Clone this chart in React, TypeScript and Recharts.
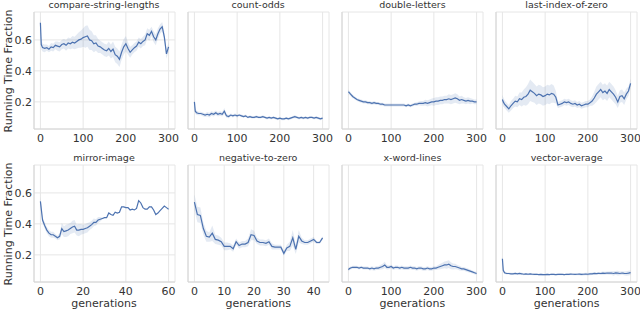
import React from 'react'
import { Area, CartesianGrid, ComposedChart, Line, XAxis, YAxis } from 'recharts'

// generation index for the 300-generation runs
const GENS_300 = [
  0, 2, 5, 10, 15, 20, 25, 30, 35, 40, 45, 50,
  55, 60, 65, 70, 75, 80, 85, 90, 95, 100,
  105, 110, 115, 120, 125, 130, 135, 140, 145, 150,
  155, 160, 165, 170, 175, 180, 185, 190, 195, 200,
  205, 210, 215, 220, 225, 230, 235, 240, 245, 250,
  255, 260, 265, 270, 275, 280, 285, 290, 295, 300,
]
const GENS_60 = [
  0, 1, 2, 3, 4, 5, 6, 7, 8, 9, 10, 11, 12, 13, 14, 15, 16, 17, 18, 19, 20,
  21, 22, 23, 24, 25, 26, 27, 28, 29, 30, 31, 32, 33, 34, 35, 36, 37, 38, 39, 40,
  41, 42, 43, 44, 45, 46, 47, 48, 49, 50, 51, 52, 53, 54, 55, 56, 57, 58, 59, 60,
]
const GENS_43 = [
  0, 1, 2, 3, 4, 5, 6, 7, 8, 9, 10, 11, 12, 13, 14, 15, 16, 17, 18, 19, 20, 21,
  22, 23, 24, 25, 26, 27, 28, 29, 30, 31, 32, 33, 34, 35, 36, 37, 38, 39, 40, 41, 42, 43,
]

const TICKS_300 = [0, 100, 200, 300]
const TICKS_60 = [0, 20, 40, 60]
const TICKS_43 = [0, 10, 20, 30, 40]
const Y_TICKS = [0.2, 0.4, 0.6]

const compareMean = [
  0.71, 0.57, 0.55, 0.545, 0.55, 0.54, 0.555, 0.55, 0.565, 0.56, 0.555, 0.57,
  0.575, 0.565, 0.58, 0.575, 0.585, 0.58, 0.59, 0.6, 0.605, 0.615,
  0.62, 0.625, 0.6, 0.595, 0.575, 0.58, 0.56, 0.555, 0.545, 0.535,
  0.53, 0.545, 0.525, 0.54, 0.505, 0.495, 0.475, 0.52, 0.555, 0.575,
  0.545, 0.52, 0.535, 0.55, 0.56, 0.585, 0.575, 0.59, 0.6, 0.64,
  0.63, 0.655, 0.62, 0.6, 0.64, 0.67, 0.685, 0.62, 0.51, 0.555,
]
const compareBand = [
  0.05, 0.03, 0.025, 0.025, 0.02, 0.02, 0.025, 0.025, 0.025, 0.03, 0.03, 0.03,
  0.03, 0.035, 0.035, 0.035, 0.04, 0.04, 0.045, 0.05, 0.055, 0.06,
  0.07, 0.07, 0.065, 0.06, 0.055, 0.05, 0.045, 0.04, 0.04, 0.04,
  0.04, 0.045, 0.045, 0.05, 0.05, 0.05, 0.05, 0.05, 0.05, 0.05,
  0.04, 0.035, 0.03, 0.03, 0.03, 0.03, 0.03, 0.03, 0.035, 0.035,
  0.035, 0.03, 0.035, 0.035, 0.035, 0.03, 0.03, 0.035, 0.03, 0.03,
]

const countOddsMean = [
  0.2, 0.14, 0.13, 0.125, 0.125, 0.12, 0.115, 0.12, 0.115, 0.125, 0.12, 0.13,
  0.12, 0.125, 0.12, 0.14, 0.11, 0.105, 0.115, 0.11, 0.115, 0.11,
  0.115, 0.11, 0.105, 0.11, 0.1, 0.105, 0.1, 0.1, 0.105, 0.1,
  0.1, 0.105, 0.1, 0.095, 0.1, 0.095, 0.1, 0.095, 0.09, 0.095,
  0.09, 0.09, 0.095, 0.09, 0.095, 0.1, 0.105, 0.1, 0.095, 0.1,
  0.095, 0.1, 0.095, 0.1, 0.1, 0.095, 0.1, 0.095, 0.09, 0.095,
]
const countOddsBand = [
  0.02, 0.015, 0.015, 0.012, 0.012, 0.012, 0.012, 0.015, 0.015, 0.015, 0.015, 0.015,
  0.015, 0.015, 0.015, 0.02, 0.012, 0.01, 0.01, 0.01, 0.01, 0.01,
  0.008, 0.008, 0.008, 0.008, 0.008, 0.008, 0.008, 0.008, 0.008, 0.008,
  0.008, 0.008, 0.008, 0.008, 0.008, 0.008, 0.008, 0.008, 0.008, 0.008,
  0.008, 0.008, 0.008, 0.008, 0.008, 0.008, 0.01, 0.008, 0.008, 0.008,
  0.008, 0.008, 0.008, 0.008, 0.008, 0.008, 0.008, 0.008, 0.008, 0.008,
]

const doubleMean = [
  0.265, 0.26, 0.25, 0.235, 0.225, 0.215, 0.21, 0.205, 0.2, 0.2, 0.195, 0.195,
  0.19, 0.195, 0.19, 0.19, 0.185, 0.185, 0.18, 0.18, 0.18, 0.18,
  0.18, 0.18, 0.18, 0.18, 0.18, 0.18, 0.175, 0.18, 0.175, 0.18,
  0.185, 0.185, 0.19, 0.19, 0.19, 0.195, 0.19, 0.195, 0.2, 0.2,
  0.205, 0.205, 0.21, 0.21, 0.215, 0.215, 0.22, 0.215, 0.22, 0.225,
  0.22, 0.21, 0.215, 0.21, 0.205, 0.21, 0.205, 0.205, 0.2, 0.2,
]
const doubleBand = [
  0.015, 0.012, 0.012, 0.012, 0.01, 0.01, 0.01, 0.01, 0.01, 0.01, 0.01, 0.01,
  0.01, 0.01, 0.01, 0.01, 0.01, 0.01, 0.01, 0.01, 0.01, 0.01,
  0.01, 0.01, 0.01, 0.01, 0.01, 0.01, 0.01, 0.01, 0.01, 0.01,
  0.01, 0.012, 0.012, 0.015, 0.015, 0.018, 0.02, 0.02, 0.022, 0.025,
  0.025, 0.025, 0.025, 0.025, 0.025, 0.025, 0.03, 0.03, 0.03, 0.03,
  0.03, 0.025, 0.025, 0.02, 0.02, 0.02, 0.02, 0.015, 0.015, 0.015,
]

const lastIndexMean = [
  0.215, 0.2, 0.185, 0.17, 0.155, 0.175, 0.19, 0.205, 0.2, 0.22, 0.215, 0.23,
  0.235, 0.25, 0.275, 0.265, 0.255, 0.24, 0.25, 0.245, 0.235, 0.24,
  0.25, 0.245, 0.255, 0.25, 0.23, 0.18, 0.185, 0.19, 0.2, 0.195,
  0.2, 0.19, 0.185, 0.19, 0.18, 0.185, 0.175, 0.18, 0.185, 0.185,
  0.195, 0.205, 0.225, 0.25, 0.265, 0.28, 0.26, 0.27, 0.255, 0.28,
  0.265, 0.25, 0.23, 0.2, 0.235, 0.24, 0.22, 0.25, 0.27, 0.32,
]
const lastIndexBand = [
  0.03, 0.03, 0.025, 0.025, 0.025, 0.03, 0.03, 0.035, 0.035, 0.04, 0.045, 0.05,
  0.06, 0.065, 0.07, 0.065, 0.06, 0.06, 0.06, 0.06, 0.06, 0.06,
  0.06, 0.06, 0.06, 0.055, 0.04, 0.02, 0.02, 0.02, 0.02, 0.02,
  0.02, 0.02, 0.02, 0.02, 0.02, 0.02, 0.02, 0.02, 0.02, 0.02,
  0.02, 0.03, 0.04, 0.05, 0.05, 0.05, 0.05, 0.05, 0.05, 0.05,
  0.05, 0.05, 0.045, 0.04, 0.04, 0.04, 0.04, 0.035, 0.03, 0.03,
]

const mirrorMean = [
  0.545, 0.425, 0.39, 0.36, 0.34, 0.33, 0.33, 0.32, 0.31, 0.32,
  0.37, 0.35, 0.355, 0.36, 0.37, 0.38, 0.385, 0.36, 0.36, 0.365,
  0.365, 0.37, 0.375, 0.385, 0.395, 0.41, 0.41, 0.425, 0.43, 0.435,
  0.44, 0.44, 0.47, 0.46, 0.455, 0.475, 0.47, 0.475, 0.51, 0.51,
  0.505, 0.505, 0.49, 0.495, 0.49, 0.5, 0.55, 0.535, 0.505, 0.495,
  0.495, 0.51, 0.51, 0.49, 0.46, 0.47, 0.485, 0.5, 0.515, 0.505,
  0.495,
]
const mirrorBand = [
  0.03, 0.02, 0.02, 0.02, 0.02, 0.02, 0.02, 0.015, 0.015, 0.02,
  0.035, 0.035, 0.04, 0.04, 0.035, 0.04, 0.04, 0.035, 0.04, 0.035,
  0.03, 0.03, 0.03, 0.025, 0.025, 0.025, 0.02, 0.02, 0.015, 0.005,
  0, 0, 0, 0, 0, 0, 0, 0, 0, 0,
  0, 0, 0, 0, 0, 0, 0, 0, 0, 0,
  0, 0, 0, 0, 0, 0, 0, 0, 0, 0,
  0,
]

const negativeMean = [
  0.54, 0.46, 0.455, 0.37, 0.32, 0.315, 0.34, 0.3, 0.295, 0.285,
  0.255, 0.255, 0.255, 0.24, 0.285, 0.26, 0.27, 0.27, 0.28, 0.33,
  0.325, 0.29, 0.28, 0.28, 0.275, 0.285, 0.255, 0.25, 0.25, 0.25,
  0.21, 0.245, 0.255, 0.31, 0.235, 0.32, 0.29, 0.28, 0.28, 0.29,
  0.3, 0.28, 0.28, 0.31,
]
const negativeBand = [
  0.05, 0.05, 0.05, 0.04, 0.035, 0.03, 0.05, 0.03, 0.03, 0.025,
  0.025, 0.025, 0.02, 0.02, 0.02, 0.02, 0.02, 0.02, 0.025, 0.035,
  0.03, 0.02, 0.02, 0.02, 0.02, 0.02, 0.02, 0.015, 0.015, 0.015,
  0.015, 0.02, 0.03, 0.05, 0.03, 0.04, 0.02, 0.015, 0.015, 0.015,
  0.015, 0.01, 0.01, 0.01,
]

const xWordMean = [
  0.105, 0.11, 0.115, 0.12, 0.12, 0.12, 0.115, 0.12, 0.115, 0.115, 0.115, 0.11,
  0.115, 0.11, 0.115, 0.115, 0.12, 0.125, 0.135, 0.12, 0.12, 0.125,
  0.115, 0.12, 0.12, 0.115, 0.12, 0.115, 0.115, 0.115, 0.12, 0.115,
  0.115, 0.11, 0.115, 0.115, 0.11, 0.11, 0.115, 0.11, 0.11, 0.115,
  0.115, 0.12, 0.125, 0.13, 0.135, 0.135, 0.14, 0.13, 0.125, 0.125,
  0.12, 0.115, 0.11, 0.11, 0.105, 0.1, 0.095, 0.09, 0.085, 0.08,
]
const xWordBand = [
  0.01, 0.01, 0.01, 0.01, 0.01, 0.01, 0.01, 0.01, 0.01, 0.01, 0.01, 0.01,
  0.012, 0.012, 0.012, 0.012, 0.015, 0.018, 0.02, 0.015, 0.012, 0.012,
  0.012, 0.012, 0.012, 0.012, 0.012, 0.012, 0.012, 0.012, 0.012, 0.012,
  0.012, 0.012, 0.012, 0.012, 0.012, 0.012, 0.012, 0.012, 0.012, 0.012,
  0.012, 0.015, 0.018, 0.02, 0.022, 0.025, 0.025, 0.022, 0.02, 0.018,
  0.015, 0.015, 0.012, 0.012, 0.012, 0.012, 0.01, 0.01, 0.01, 0.01,
]

const vectorMean = [
  0.175, 0.1, 0.085, 0.08, 0.08, 0.078, 0.078, 0.08, 0.078, 0.08, 0.078, 0.075,
  0.077, 0.075, 0.077, 0.075, 0.074, 0.075, 0.073, 0.074, 0.072, 0.073,
  0.074, 0.073, 0.075, 0.074, 0.073, 0.074, 0.075, 0.074, 0.073, 0.075,
  0.074, 0.076, 0.075, 0.074, 0.075, 0.076, 0.074, 0.075, 0.076, 0.075,
  0.077, 0.078, 0.08, 0.079, 0.081, 0.08, 0.082, 0.081, 0.083, 0.082,
  0.083, 0.08, 0.084, 0.082, 0.08, 0.083, 0.081, 0.08, 0.082, 0.085,
]
const vectorBand = [
  0.02, 0.01, 0.008, 0.006, 0.006, 0.006, 0.006, 0.006, 0.006, 0.006, 0.006, 0.006,
  0.006, 0.006, 0.006, 0.006, 0.006, 0.006, 0.006, 0.006, 0.006, 0.006,
  0.006, 0.006, 0.006, 0.006, 0.006, 0.006, 0.006, 0.006, 0.006, 0.006,
  0.006, 0.006, 0.006, 0.006, 0.006, 0.007, 0.008, 0.008, 0.008, 0.008,
  0.008, 0.008, 0.008, 0.008, 0.008, 0.01, 0.01, 0.01, 0.01, 0.01,
  0.012, 0.015, 0.012, 0.015, 0.012, 0.012, 0.012, 0.014, 0.015, 0.015,
]

const BLUE = '#4c72b0'
const FONT = '"DejaVu Sans", sans-serif'
const TEXT = '#333333'

const PLOT_W = 141
const PLOT_H = 117
const COL_LEFT = [33.5, 187.7, 341.9, 496.1]
const ROW_TOP = [12, 165]
const Y_DOMAIN = [0.025, 0.78]

type Panel = {
  title: string
  gens: number[]
  mean: number[]
  band: number[]
  ticks: number[]
  row: number
  col: number
}

const panels: Panel[] = [
  { title: 'compare-string-lengths', gens: GENS_300, mean: compareMean, band: compareBand, ticks: TICKS_300, row: 0, col: 0 },
  { title: 'count-odds', gens: GENS_300, mean: countOddsMean, band: countOddsBand, ticks: TICKS_300, row: 0, col: 1 },
  { title: 'double-letters', gens: GENS_300, mean: doubleMean, band: doubleBand, ticks: TICKS_300, row: 0, col: 2 },
  { title: 'last-index-of-zero', gens: GENS_300, mean: lastIndexMean, band: lastIndexBand, ticks: TICKS_300, row: 0, col: 3 },
  { title: 'mirror-image', gens: GENS_60, mean: mirrorMean, band: mirrorBand, ticks: TICKS_60, row: 1, col: 0 },
  { title: 'negative-to-zero', gens: GENS_43, mean: negativeMean, band: negativeBand, ticks: TICKS_43, row: 1, col: 1 },
  { title: 'x-word-lines', gens: GENS_300, mean: xWordMean, band: xWordBand, ticks: TICKS_300, row: 1, col: 2 },
  { title: 'vector-average', gens: GENS_300, mean: vectorMean, band: vectorBand, ticks: TICKS_300, row: 1, col: 3 },
]

function FacetChart({ p }: { p: Panel }) {
  const data = p.gens.map((g, i) => ({
    gen: g,
    mean: p.mean[i],
    range: [p.mean[i] - p.band[i], p.mean[i] + p.band[i]],
  }))
  const maxGen = p.gens[p.gens.length - 1]
  const pad = maxGen * 0.05
  const left = COL_LEFT[p.col]
  const top = ROW_TOP[p.row]
  const tick = { fontSize: 11, fill: TEXT, fontFamily: FONT }

  return (
    <>
      <div
        style={{
          position: 'absolute', left, top: top - 12, width: PLOT_W, lineHeight: '10px',
          textAlign: 'center', fontSize: 9.5, color: TEXT, fontFamily: FONT,
        }}
      >
        {p.title}
      </div>
      <div style={{ position: 'absolute', left: left - 34, top: top - 2 }}>
        <ComposedChart width={34 + PLOT_W + 4} height={2 + PLOT_H + 20} data={data}
          margin={{ top: 2, right: 4, left: 0, bottom: 0 }}>
          <CartesianGrid stroke="#e6e6e6" />
          <XAxis type="number" dataKey="gen" domain={[-pad, maxGen + pad]} ticks={p.ticks}
            interval={0} tickLine={false} tickSize={4} tickMargin={1} height={20}
            axisLine={{ stroke: '#d4d4d4' }} tick={tick} />
          <YAxis type="number" domain={Y_DOMAIN} ticks={Y_TICKS} interval={0} width={34}
            tickLine={false} tickSize={2} tickMargin={0}
            axisLine={{ stroke: '#d4d4d4' }}
            tick={p.col === 0 ? tick : false}
            tickFormatter={(v: number) => v.toFixed(1)} />
          <Area type="linear" dataKey="range" stroke="none" fill={BLUE} fillOpacity={0.15}
            isAnimationActive={false} />
          <Line type="linear" dataKey="mean" stroke={BLUE} strokeWidth={1.2} dot={false}
            isAnimationActive={false} />
        </ComposedChart>
      </div>
      {p.row === 1 && (
        <div
          style={{
            position: 'absolute', left, top: 298, width: PLOT_W, lineHeight: '11px',
            textAlign: 'center', fontSize: 11, color: TEXT, fontFamily: FONT,
          }}
        >
          generations
        </div>
      )}
    </>
  )
}

export default function App() {
  return (
    <div style={{ position: 'absolute', left: 0, top: 0, width: 640, height: 310, background: '#fff', overflow: 'hidden' }}>
      {panels.map((p) => (
        <FacetChart key={p.title} p={p} />
      ))}
      {ROW_TOP.map((t) => (
        <div
          key={t}
          style={{
            position: 'absolute', left: 8.5 - 70, top: t + PLOT_H / 2 - 6, width: 140, height: 12,
            lineHeight: '12px', textAlign: 'center', fontSize: 11, color: TEXT, fontFamily: FONT,
            transform: 'rotate(-90deg)', whiteSpace: 'nowrap',
          }}
        >
          Running Time Fraction
        </div>
      ))}
    </div>
  )
}
